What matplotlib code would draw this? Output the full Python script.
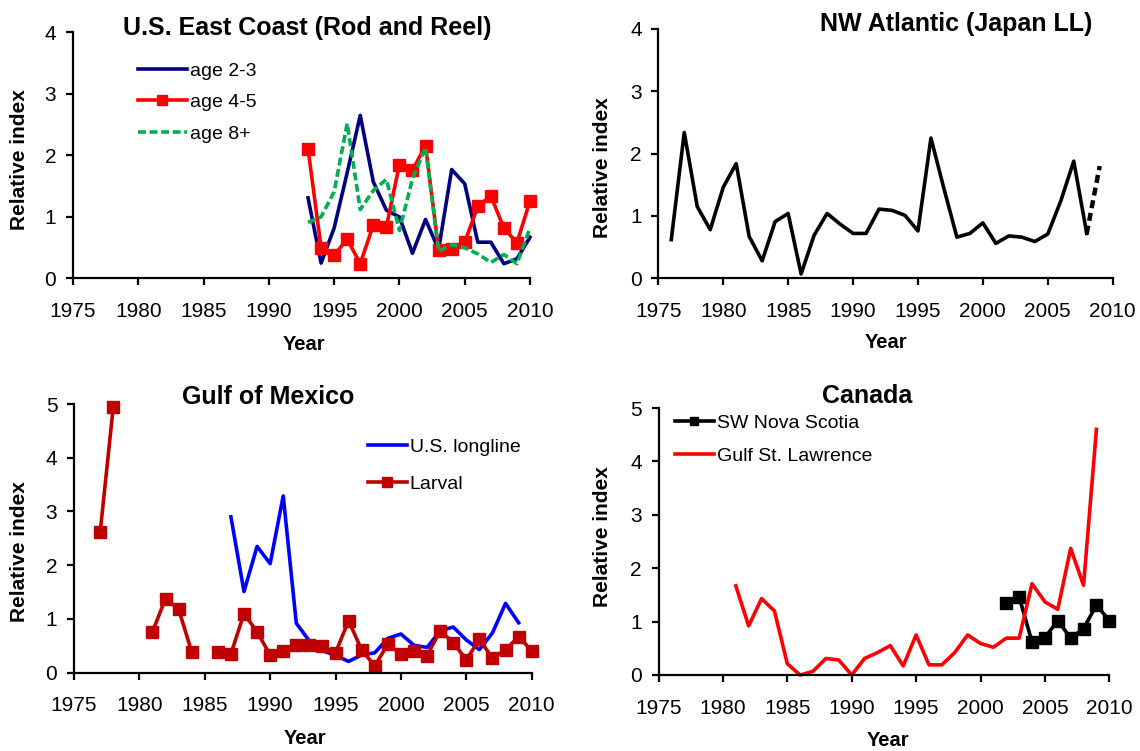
import numpy as np
import matplotlib
matplotlib.use("Agg")
import matplotlib.pyplot as plt

plt.rcParams['font.family'] = ['Liberation Sans', 'DejaVu Sans']

# ---------------- data ----------------
# U.S. East Coast (Rod and Reel)
ec_years = list(range(1993, 2011))
ec_age23 = [1.31, 0.25, 0.82, 1.72, 2.65, 1.57, 1.11, 1.00, 0.41, 0.96, 0.47, 1.77, 1.54, 0.59, 0.59, 0.24, 0.32, 0.67]
ec_age45 = [2.11, 0.50, 0.38, 0.64, 0.24, 0.87, 0.84, 1.85, 1.76, 2.16, 0.47, 0.48, 0.59, 1.17, 1.34, 0.82, 0.58, 1.26]
ec_age8p = [0.91, 1.00, 1.41, 2.52, 1.12, 1.43, 1.61, 0.78, 1.62, 2.13, 0.44, 0.55, 0.50, 0.40, 0.26, 0.39, 0.24, 0.82]

# NW Atlantic (Japan LL)
jp_years = list(range(1976, 2010))
jp_index = [0.62, 2.34, 1.15, 0.78, 1.46, 1.84, 0.67, 0.28, 0.91, 1.04, 0.07, 0.69, 1.04, 0.87,
            0.72, 0.72, 1.11, 1.09, 1.01, 0.76, 2.25, 1.44, 0.66, 0.72, 0.89, 0.56, 0.68, 0.66,
            0.59, 0.71, 1.24, 1.88, 0.72, 1.80]

# Gulf of Mexico
gm_ll_years = list(range(1987, 2010))
gm_longline = [2.90, 1.51, 2.35, 2.03, 3.29, 0.92, 0.59, 0.41, 0.32, 0.21, 0.33, 0.37, 0.64,
               0.72, 0.51, 0.47, 0.78, 0.85, 0.61, 0.43, 0.74, 1.29, 0.93]
gm_lv_years = list(range(1977, 2011))
gm_larval = [2.61, 4.94, np.nan, np.nan, 0.76, 1.38, 1.18, 0.39, np.nan, 0.39, 0.35, 1.10, 0.76,
             0.33, 0.41, 0.51, 0.51, 0.49, 0.37, 0.97, 0.42, 0.13, 0.53, 0.35, 0.41, 0.32,
             0.78, 0.56, 0.24, 0.62, 0.27, 0.43, 0.67, 0.41]

# Canada
ns_years = list(range(2002, 2011))
ns_index = [1.34, 1.46, 0.62, 0.70, 1.02, 0.69, 0.87, 1.31, 1.02]
gsl_years = list(range(1981, 2010))
gsl_index = [1.67, 0.92, 1.43, 1.20, 0.21, 0.00, 0.07, 0.31, 0.28, 0.00, 0.31, 0.42, 0.55,
             0.17, 0.75, 0.19, 0.19, 0.42, 0.75, 0.59, 0.52, 0.69, 0.69, 1.71, 1.37, 1.23,
             2.37, 1.68, 4.60]

year_ticks = [1975, 1980, 1985, 1990, 1995, 2000, 2005, 2010]

# ---------------- figure ----------------
W, H = 1140, 751
fig = plt.figure(figsize=(W / 100, H / 100), dpi=100)


def add_axes(x0, x1, ytop, ybot):
    return fig.add_axes([x0 / W, 1 - ybot / H, (x1 - x0) / W, (ybot - ytop) / H])


def style(ax, ymax):
    ax.set_xlim(1975, 2010)
    ax.set_ylim(0, ymax)
    ax.set_xticks(year_ticks)
    ax.set_yticks(range(0, ymax + 1))
    for s in ['top', 'right']:
        ax.spines[s].set_visible(False)
    for s in ['left', 'bottom']:
        ax.spines[s].set_linewidth(1.6)
    ax.tick_params(axis='both', direction='out', length=5, width=1.6, labelsize=15)
    ax.tick_params(axis='x', pad=12)
    ax.tick_params(axis='y', pad=7)
    for sp in ax.spines.values():
        sp.set_clip_on(False)


def ftext(x, y, s, **kw):
    fig.text(x / W, 1 - y / H, s, ha='center', va='center', **kw)


LW = 2.6
MS = 8.5

# Top-left: U.S. East Coast
ax1 = add_axes(73, 530, 32.3, 278.5)
style(ax1, 4)
ax1.plot(ec_years, ec_age23, color='#000080', lw=LW, label='age 2-3', clip_on=False)
ax1.plot(ec_years, ec_age45, color='#FF0000', lw=LW, marker='s', ms=MS, label='age 4-5', clip_on=False)
ax1.plot(ec_years, ec_age8p, color='#00B050', lw=LW, linestyle=(0, (2.2, 1.0)), label='age 8+', clip_on=False)
ax1.legend(loc='upper left', bbox_to_anchor=(138 / W, 1 - 62 / H), bbox_transform=fig.transFigure,
           frameon=False, fontsize=14, handlelength=2.5, handletextpad=0.2, labelspacing=0.72,
           borderpad=0, borderaxespad=0, markerscale=0.85)
ftext(307, 28, 'U.S. East Coast (Rod and Reel)', fontsize=18, fontweight='bold')
ftext(304, 344, 'Year', fontsize=14.5, fontweight='bold')
ftext(20, 160, 'Relative index', fontsize=15, fontweight='bold', rotation=90)

# Top-right: NW Atlantic (Japan LL)
ax2 = add_axes(658.3, 1112.7, 29, 278.3)
style(ax2, 4)
ax2.plot(jp_years[:-1], jp_index[:-1], color='black', lw=LW, clip_on=False)
ax2.plot(jp_years[-2:], jp_index[-2:], color='black', lw=3.2, linestyle=(0, (1.8, 1.1)), clip_on=False)
ftext(956, 24, 'NW Atlantic (Japan LL)', fontsize=18, fontweight='bold')
ftext(886, 342, 'Year', fontsize=14.5, fontweight='bold')
ftext(602, 168, 'Relative index', fontsize=15, fontweight='bold', rotation=90)

# Bottom-left: Gulf of Mexico
ax3 = add_axes(74, 531.7, 404, 672.7)
style(ax3, 5)
ax3.plot(gm_ll_years, gm_longline, color='#0000FF', lw=LW, label='U.S. longline', clip_on=False)
ax3.plot(gm_lv_years, gm_larval, color='#C00000', lw=LW, marker='s', ms=MS, label='Larval', clip_on=False)
ax3.legend(loc='upper left', bbox_to_anchor=(368 / W, 1 - 438 / H), bbox_transform=fig.transFigure,
           frameon=False, fontsize=14, handlelength=2.0, handletextpad=0.15, labelspacing=1.0,
           borderpad=0, borderaxespad=0, markerscale=0.85)
ftext(268, 397, 'Gulf of Mexico', fontsize=18, fontweight='bold')
ftext(305, 739, 'Year', fontsize=14.5, fontweight='bold')
ftext(20, 552, 'Relative index', fontsize=15, fontweight='bold', rotation=90)

# Bottom-right: Canada
ax4 = add_axes(658.5, 1109.3, 408, 675)
style(ax4, 5)
ax4.plot(ns_years, ns_index, color='black', lw=LW, marker='s', ms=MS, label='SW Nova Scotia', clip_on=False)
ax4.plot(gsl_years, gsl_index, color='#FF0000', lw=LW, label='Gulf St. Lawrence', clip_on=False)
ax4.legend(loc='upper left', bbox_to_anchor=(675 / W, 1 - 414 / H), bbox_transform=fig.transFigure,
           frameon=False, fontsize=14, handlelength=2.0, handletextpad=0.15, labelspacing=0.8,
           borderpad=0, borderaxespad=0, markerscale=0.6)
ftext(867, 396, 'Canada', fontsize=18, fontweight='bold')
ftext(888, 740, 'Year', fontsize=14.5, fontweight='bold')
ftext(602, 537, 'Relative index', fontsize=15, fontweight='bold', rotation=90)

fig.savefig('out.png', dpi=100)
